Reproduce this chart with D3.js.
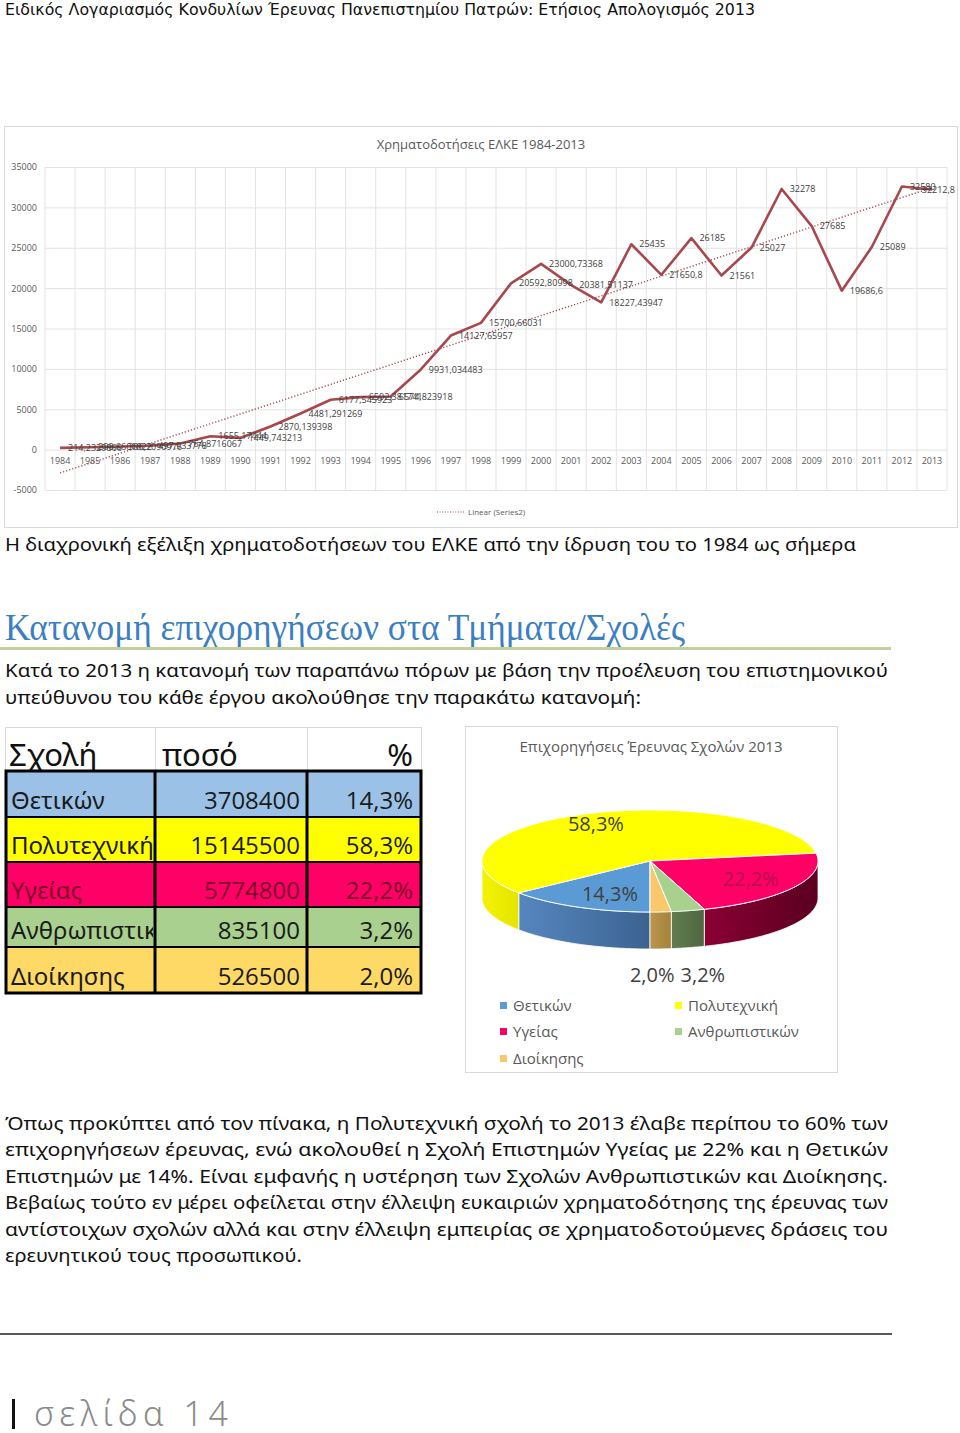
<!DOCTYPE html>
<html>
<head>
<meta charset="utf-8">
<script src="https://cdn.jsdelivr.net/npm/d3@7"></script>
<style>
  body { margin: 0; background: #fff; }
  svg { display: block; }
</style>
</head>
<body>
<svg id="page" width="960" height="1433"></svg>
<script>
// ---- data ----
const years = ["1984", "1985", "1986", "1987", "1988", "1989", "1990", "1991", "1992", "1993",
  "1994", "1995", "1996", "1997", "1998", "1999", "2000", "2001", "2002", "2003",
  "2004", "2005", "2006", "2007", "2008", "2009", "2010", "2011", "2012", "2013"];
const funding = [214.2329866, 298.6601822, 386.2090976, 497.933778, 764.8716067, 1655.17444,
  1449.743213, 2870.139398, 4481.291269, 6177.545923, 6502.381741, 6574.823918,
  9931.034483, 14127.65957, 15700.66031, 20592.80998, 23000.73368, 20381.51137,
  18227.43947, 25435, 21650.8, 26185, 21561, 25027, 32278, 27685, 19686.6, 25089, 32580, 32212.8];
const yTicks = [-5000, 0, 5000, 10000, 15000, 20000, 25000, 30000, 35000];

const schools = ["Θετικών", "Πολυτεχνική", "Υγείας", "Ανθρωπιστικών", "Διοίκησης"];
const amounts = [3708400, 15145500, 5774800, 835100, 526500];
const tableFill = ["#9bc2e6", "#ffff00", "#ff0066", "#a9d08e", "#ffd966"];
const tableInk = ["#1a1a1a", "#1a1a1a", "#7a0028", "#1a1a1a", "#1a1a1a"];
const pieTop = ["#5b9bd5", "#ffff00", "#ff0066", "#a9d18e", "#f9c86b"];
const pieSide = [["#5686bf", "#3b6391"], ["#f4f400", "#e4e400"], ["#8a0032", "#5a0020"],
  ["#627d4f", "#4f6640"], ["#bb974b", "#a4823a"]];

const pageTitle = "Ειδικός Λογαριασμός Κονδυλίων Έρευνας Πανεπιστημίου Πατρών: Ετήσιος Απολογισμός 2013";
const caption = "Η διαχρονική εξέλιξη χρηματοδοτήσεων του ΕΛΚΕ από την ίδρυση του το 1984 ως σήμερα";
const heading = "Κατανομή επιχορηγήσεων στα Τμήματα/Σχολές";
const introLines = [
  "Κατά το 2013 η κατανομή των παραπάνω πόρων με βάση την προέλευση του επιστημονικού",
  "υπεύθυνου του κάθε έργου ακολούθησε την παρακάτω κατανομή:"
];
const bodyLines = [
  "Όπως προκύπτει από τον πίνακα, η Πολυτεχνική σχολή το 2013 έλαβε περίπου το 60% των",
  "επιχορηγήσεων έρευνας, ενώ ακολουθεί η Σχολή Επιστημών Υγείας με 22% και η Θετικών",
  "Επιστημών με 14%. Είναι εμφανής η υστέρηση των Σχολών Ανθρωπιστικών και Διοίκησης.",
  "Βεβαίως τούτο εν μέρει οφείλεται στην έλλειψη ευκαιριών χρηματοδότησης της έρευνας των",
  "αντίστοιχων σχολών αλλά και στην έλλειψη εμπειρίας σε χρηματοδοτούμενες δράσεις του",
  "ερευνητικού τους προσωπικού."
];

const svg = d3.select("#page");
svg.append("rect").attr("width", 960).attr("height", 1433).attr("fill", "#fff");
const defs = svg.append("defs");

const comma = v => String(v).replace(".", ",");
const pct = d3.format(".1%");

// plain text line, stretched to the measured width
function line(str, x, y, size, len, family, fill) {
  const t = svg.append("text")
    .attr("x", x).attr("y", y)
    .style("font-family", family)
    .style("font-size", size + "px")
    .attr("fill", fill)
    .text(str);
  if (len) t.attr("textLength", len).attr("lengthAdjust", "spacingAndGlyphs");
  return t;
}

const bodyFont = "'Noto Sans', sans-serif";
const chartFont = "'Open Sans', 'Noto Sans', sans-serif";

line(pageTitle, 5, 15, 15, 750, "'DejaVu Sans', sans-serif", "#111");

// ---- line chart ----
const lc = { left: 45, right: 947, top: 167, bottom: 490 };
svg.append("rect").attr("x", 4.5).attr("y", 126.5).attr("width", 953).attr("height", 401)
  .attr("fill", "#fff").attr("stroke", "#d9d9d9");

const x = d3.scaleBand().domain(years).range([lc.left, lc.right]);
const y = d3.scaleLinear().domain([-5000, 35000]).range([lc.bottom, lc.top]);
const bw = x.bandwidth();
const cx = d => x(d) + bw / 2;

const chart = svg.append("g");

// horizontal grid
chart.append("g")
  .attr("transform", "translate(" + lc.left + ",0)")
  .call(d3.axisLeft(y).tickValues(yTicks).tickSize(-(lc.right - lc.left)).tickFormat(""))
  .call(g => g.select(".domain").remove())
  .call(g => g.selectAll("line").attr("stroke", "#e3e3e3"));

// vertical grid at category boundaries
chart.append("g").selectAll("line")
  .data(years.map(d => x(d)).concat([lc.right]))
  .enter().append("line")
  .attr("x1", d => d).attr("x2", d => d)
  .attr("y1", lc.top).attr("y2", lc.bottom)
  .attr("stroke", "#e3e3e3");

// y labels
chart.append("g")
  .attr("transform", "translate(" + lc.left + ",0)")
  .call(d3.axisLeft(y).tickValues(yTicks).tickSize(0).tickPadding(8).tickFormat(d => d))
  .call(g => g.select(".domain").remove())
  .call(g => g.selectAll("text").style("font-family", chartFont).style("font-size", "9px").attr("fill", "#595959"));

// x labels at the zero line
chart.append("g")
  .attr("transform", "translate(0," + y(0) + ")")
  .call(d3.axisBottom(x).tickSize(0).tickPadding(8))
  .call(g => g.select(".domain").remove())
  .call(g => g.selectAll("text").style("font-family", chartFont).style("font-size", "9px").attr("fill", "#595959"));

// linear trend of the series
const n = funding.length;
const mx = d3.mean(funding, (d, i) => i);
const my = d3.mean(funding);
const slope = d3.sum(funding, (d, i) => (i - mx) * (d - my)) / d3.sum(funding, (d, i) => (i - mx) * (i - mx));
const icpt = my - slope * mx;
chart.append("line")
  .attr("x1", cx(years[0])).attr("y1", y(icpt))
  .attr("x2", cx(years[n - 1])).attr("y2", y(icpt + slope * (n - 1)))
  .attr("stroke", "#a5474c").attr("stroke-width", 1.4).attr("stroke-dasharray", "1.2,2");

chart.append("path")
  .datum(funding)
  .attr("fill", "none")
  .attr("stroke", "#a8474c")
  .attr("stroke-width", 2.6)
  .attr("stroke-linejoin", "round")
  .attr("d", d3.line().x((d, i) => cx(years[i])).y(d => y(d)));

// data labels to the right of each point, pulled back inside the frame if needed
chart.append("g").selectAll("text")
  .data(funding)
  .enter().append("text")
  .attr("x", (d, i) => cx(years[i]) + 8)
  .attr("y", d => y(d))
  .attr("dy", "0.35em")
  .style("font-family", chartFont).style("font-size", "9px")
  .attr("fill", "#404040")
  .text(d => comma(d))
  .each(function () {
    const w = this.getComputedTextLength();
    const x0 = +this.getAttribute("x");
    if (x0 + w > 955) this.setAttribute("x", 955 - w);
  });

svg.append("text").attr("x", 481).attr("y", 149).attr("text-anchor", "middle")
  .style("font-family", chartFont).style("font-size", "13px").attr("fill", "#595959")
  .text("Χρηματοδοτήσεις ΕΛΚΕ 1984-2013");

svg.append("line").attr("x1", 437).attr("x2", 464).attr("y1", 512).attr("y2", 512)
  .attr("stroke", "#a5474c").attr("stroke-width", 1.2).attr("stroke-dasharray", "1,1.6");
svg.append("text").attr("x", 468).attr("y", 515)
  .style("font-family", chartFont).style("font-size", "8px").attr("fill", "#595959")
  .text("Linear (Series2)");

// ---- texts ----
line(caption, 5, 551, 18, 851, bodyFont, "#111");
line(heading, 5, 640, 38, 680, "'Liberation Serif', 'DejaVu Serif', serif", "#3b7fc1");
svg.append("rect").attr("x", 0).attr("y", 647).attr("width", 891).attr("height", 3).attr("fill", "#c4cfa0");
line(introLines[0], 5, 677, 18, 883, bodyFont, "#111");
line(introLines[1], 5, 704, 18, 636, bodyFont, "#111");

// ---- table ----
const colX = [5, 155, 307, 421];
const rowY = [771, 817, 862, 907, 947, 993];
const total = d3.sum(amounts);
const table = svg.append("g");

// header row with light grid
for (let c = 0; c < 3; c++) {
  table.append("rect").attr("x", colX[c] + 0.5).attr("y", 727.5)
    .attr("width", colX[c + 1] - colX[c]).attr("height", rowY[0] - 727)
    .attr("fill", "#fff").attr("stroke", "#d9d9d9");
}
table.append("text").attr("x", 9).attr("y", 766).style("font-family", bodyFont).style("font-size", "31px").attr("fill", "#111").text("Σχολή");
table.append("text").attr("x", 162).attr("y", 766).style("font-family", bodyFont).style("font-size", "31px").attr("fill", "#111").text("ποσό");
table.append("text").attr("x", 413).attr("y", 766).attr("text-anchor", "end").style("font-family", bodyFont).style("font-size", "31px").attr("fill", "#111").text("%");

defs.append("clipPath").attr("id", "col0").append("rect")
  .attr("x", colX[0]).attr("y", rowY[0]).attr("width", colX[1] - colX[0] - 2).attr("height", rowY[5] - rowY[0]);

schools.forEach((s, i) => {
  table.append("rect").attr("x", colX[0]).attr("y", rowY[i])
    .attr("width", colX[3] - colX[0]).attr("height", rowY[i + 1] - rowY[i])
    .attr("fill", tableFill[i]);
  const base = rowY[i + 1] - 8;
  table.append("text").attr("x", 11).attr("y", base).attr("clip-path", "url(#col0)")
    .style("font-family", bodyFont).style("font-size", "24px").attr("fill", tableInk[i]).text(s);
  table.append("text").attr("x", 300).attr("y", base).attr("text-anchor", "end")
    .style("font-family", chartFont).style("font-size", "24px").attr("fill", tableInk[i]).text(amounts[i]);
  table.append("text").attr("x", 413).attr("y", base).attr("text-anchor", "end")
    .style("font-family", chartFont).style("font-size", "24px").attr("fill", tableInk[i])
    .text(pct(amounts[i] / total).replace(".", ","));
});
// black borders
rowY.slice(1, 5).forEach(r => {
  table.append("line").attr("x1", colX[0]).attr("x2", colX[3]).attr("y1", r).attr("y2", r)
    .attr("stroke", "#000").attr("stroke-width", 2);
});
[colX[1], colX[2]].forEach(c => {
  table.append("line").attr("x1", c).attr("x2", c).attr("y1", rowY[0]).attr("y2", rowY[5])
    .attr("stroke", "#000").attr("stroke-width", 3);
});
table.append("rect").attr("x", colX[0] + 1).attr("y", rowY[0]).attr("width", colX[3] - colX[0] - 1)
  .attr("height", rowY[5] - rowY[0]).attr("fill", "none").attr("stroke", "#000").attr("stroke-width", 3);

// ---- 3D pie ----
svg.append("rect").attr("x", 465.5).attr("y", 726.5).attr("width", 372).attr("height", 346)
  .attr("fill", "#fff").attr("stroke", "#d9d9d9");
svg.append("text").attr("x", 651).attr("y", 752).attr("text-anchor", "middle")
  .style("font-family", chartFont).style("font-size", "15px").attr("fill", "#595959")
  .text("Επιχορηγήσεις Έρευνας Σχολών 2013");

const pc = { x: 650, y: 861, rx: 168, ry: 51, depth: 37 };
const ep = (a, dy) => [pc.x + pc.rx * Math.sin(a), pc.y - pc.ry * Math.cos(a) + dy];
const arcs = d3.pie().sort(null).startAngle(Math.PI).endAngle(3 * Math.PI)(amounts);

function wallD(a0, a1) {
  let d = "";
  for (let k = -1; k <= 1; k++) {
    const s = Math.max(a0, Math.PI / 2 + 2 * Math.PI * k);
    const e = Math.min(a1, 3 * Math.PI / 2 + 2 * Math.PI * k);
    if (e <= s) continue;
    const ts = d3.range(41).map(i => s + (e - s) * i / 40);
    const pts = ts.map(t => ep(t, 0)).concat(ts.slice().reverse().map(t => ep(t, pc.depth)));
    d += "M" + pts.map(p => p.join(",")).join("L") + "Z";
  }
  return d;
}
function topD(a0, a1) {
  const ts = d3.range(81).map(i => a0 + (a1 - a0) * i / 80);
  return "M" + [[pc.x, pc.y]].concat(ts.map(t => ep(t, 0))).map(p => p.join(",")).join("L") + "Z";
}

const pie = svg.append("g");
arcs.forEach((a, i) => {
  const gid = "side" + i;
  const gr = defs.append("linearGradient").attr("id", gid).attr("x1", 0).attr("x2", 1).attr("y1", 0).attr("y2", 0);
  gr.append("stop").attr("offset", 0).attr("stop-color", pieSide[i][0]);
  gr.append("stop").attr("offset", 1).attr("stop-color", pieSide[i][1]);
  pie.append("path").attr("d", wallD(a.startAngle, a.endAngle))
    .attr("fill", "url(#" + gid + ")").attr("stroke", "#fff").attr("stroke-width", 0.8);
});
arcs.forEach((a, i) => {
  pie.append("path").attr("d", topD(a.startAngle, a.endAngle))
    .attr("fill", pieTop[i]).attr("stroke", "#fff").attr("stroke-width", 1);
});

// labels: big slices inside, small ones below the pie
const labelR = [0.55, 0.8, 0.7];
const small = arcs.filter(a => a.value / total < 0.05);
const smallMid = (d3.min(small, a => a.startAngle) + d3.max(small, a => a.endAngle)) / 2;
const smallX = ep(smallMid, 0)[0];
arcs.forEach((a, i) => {
  const share = a.value / total;
  const txt = pct(share).replace(".", ",");
  const t = pie.append("text").style("font-family", chartFont).style("font-size", "20px")
    .attr("fill", i === 2 ? "#b3124a" : "#404040").text(txt);
  if (share >= 0.05) {
    const m = (a.startAngle + a.endAngle) / 2;
    const f = labelR[i];
    const p = [pc.x + pc.rx * f * Math.sin(m), pc.y - pc.ry * f * Math.cos(m) + (i === 0 ? 8 : 0)];
    t.attr("x", p[0]).attr("y", p[1]).attr("dy", "0.35em").attr("text-anchor", "middle");
  } else {
    const after = a.startAngle > smallMid;
    t.attr("x", after ? smallX - 3 : smallX + 3).attr("y", 982)
      .attr("text-anchor", after ? "end" : "start");
  }
});

// legend
const legPos = [[503, 1006], [678, 1006], [503, 1032], [678, 1032], [503, 1059]];
schools.forEach((s, i) => {
  svg.append("rect").attr("x", legPos[i][0] - 3).attr("y", legPos[i][1] - 4).attr("width", 7).attr("height", 7)
    .attr("fill", pieTop[i]);
  svg.append("text").attr("x", legPos[i][0] + 10).attr("y", legPos[i][1]).attr("dy", "0.35em")
    .style("font-family", chartFont).style("font-size", "15px").attr("fill", "#595959").text(s);
});

// ---- closing paragraph ----
bodyLines.forEach((s, i) => {
  const last = i === bodyLines.length - 1;
  line(s, 5, 1130 + i * 26.4, 18, last ? 297 : 883, bodyFont, "#111");
});

svg.append("rect").attr("x", 0).attr("y", 1333).attr("width", 892).attr("height", 2).attr("fill", "#595959");

// footer
svg.append("rect").attr("x", 12).attr("y", 1399).attr("width", 3).attr("height", 30).attr("fill", "#111");
svg.append("text").attr("x", 34).attr("y", 1426)
  .style("font-family", bodyFont).style("font-size", "34px").style("font-weight", 300)
  .style("letter-spacing", "5.5px").attr("fill", "#8a8a8a")
  .text("σελίδα 14");
</script>
</body>
</html>
